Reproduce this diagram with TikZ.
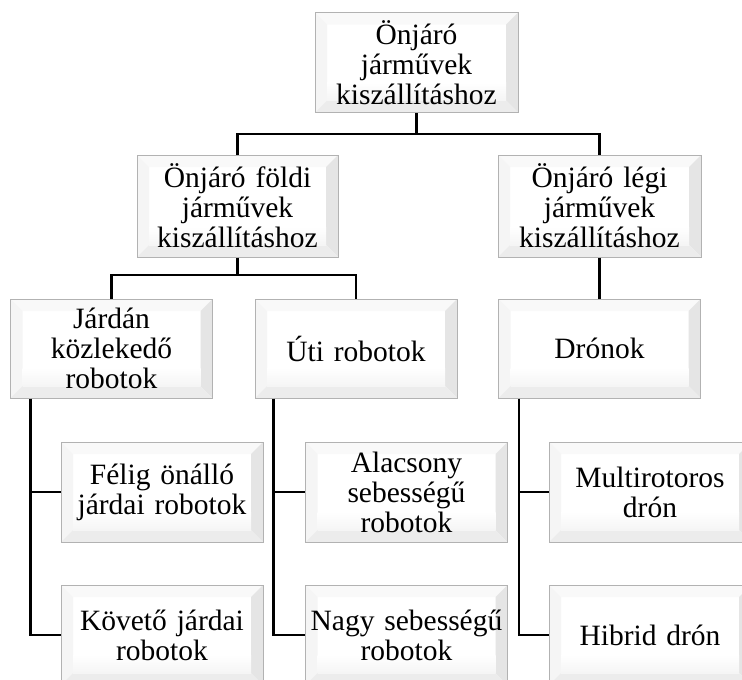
\documentclass[tikz,border=0pt]{standalone}
\usepackage{fontspec}
\setmainfont{Liberation Serif}
\begin{document}
\begin{tikzpicture}[x=1pt,y=-1pt,
  bevelbox/.style={
    minimum width=202pt, minimum height=100pt, inner sep=0pt,
    align=center, text width=200pt, font=\fontsize{29.5}{30}\selectfont,
    fill=white, draw=gray!60, line width=1pt,
    path picture={
      \def\bv{12pt}
      \coordinate (nw) at (path picture bounding box.north west);
      \coordinate (ne) at (path picture bounding box.north east);
      \coordinate (sw) at (path picture bounding box.south west);
      \coordinate (se) at (path picture bounding box.south east);
      \fill[gray!5] (nw) -- (ne) -- ([xshift=-\bv,yshift=-\bv]ne) -- ([xshift=\bv,yshift=-\bv]nw) -- cycle;
      \fill[gray!8] (nw) -- ([xshift=\bv,yshift=-\bv]nw) -- ([xshift=\bv,yshift=\bv]sw) -- (sw) -- cycle;
      \fill[gray!20] (ne) -- ([xshift=-\bv,yshift=-\bv]ne) -- ([xshift=-\bv,yshift=\bv]se) -- (se) -- cycle;
      \fill[gray!15] (sw) -- ([xshift=\bv,yshift=\bv]sw) -- ([xshift=-\bv,yshift=\bv]se) -- (se) -- cycle;
      \shade[top color=white, bottom color=gray!8] ([xshift=\bv,yshift=30pt]sw) rectangle ([xshift=-\bv,yshift=\bv]se);
    }},
  conn/.style={draw=black, line width=2.2pt}
]
\useasboundingbox (0,0) rectangle (742,680);
\clip (0,0) rectangle (742,680);

\node[bevelbox, minimum width=203pt] (top) at (416.5,62.5) {Önjáró\\járművek\\kiszállításhoz};
\node[bevelbox, minimum width=201pt, minimum height=102pt] (land) at (237.5,206) {Önjáró földi\\járművek\\kiszállításhoz};
\node[bevelbox, minimum width=203pt, minimum height=102pt] (air) at (599.5,206) {Önjáró légi\\járművek\\kiszállításhoz};

\node[bevelbox, minimum height=99pt] (jarda) at (111.5,348.5) {Járdán\\közlekedő\\robotok};
\node[bevelbox, minimum height=99pt] (uti) at (356,348.5) {Úti robotok};
\node[bevelbox, minimum height=99pt] (dron) at (599.5,348.5) {Drónok};

\node[bevelbox] (felig) at (162,492) {Félig önálló\\járdai robotok};
\node[bevelbox] (kovet) at (162,635) {Követő járdai\\robotok};
\node[bevelbox] (alacs) at (406.5,492) {Alacsony\\sebességű\\robotok};
\node[bevelbox] (nagy) at (406.5,635) {Nagy sebességű\\robotok};
\node[bevelbox] (multi) at (650,492) {Multirotoros\\drón};
\node[bevelbox] (hibrid) at (650,635) {Hibrid drón};

% level 1 -> 2
\coordinate (j1) at (416.5,134);
\draw[conn] (top.south) -- (j1);
\draw[conn] (land.north) |- (j1) -| (air.north);
% land -> children
\coordinate (j2) at (237.5,275);
\draw[conn] (land.south) -- (j2);
\draw[conn] (jarda.north) |- (j2) -| (uti.north);
% air -> dron
\draw[conn] (air.south) -- (dron.north);

% children of jarda
\coordinate (ja) at ([xshift=20.5pt]jarda.south west);
\draw[conn] (ja) |- (kovet.west);
\draw[conn] (ja |- felig.west) -- (felig.west);
% children of uti
\coordinate (ua) at ([xshift=19pt]uti.south west);
\draw[conn] (ua) |- (nagy.west);
\draw[conn] (ua |- alacs.west) -- (alacs.west);
% children of dron
\coordinate (da) at ([xshift=21pt]dron.south west);
\draw[conn] (da) |- (hibrid.west);
\draw[conn] (da |- multi.west) -- (multi.west);
\end{tikzpicture}
\end{document}
